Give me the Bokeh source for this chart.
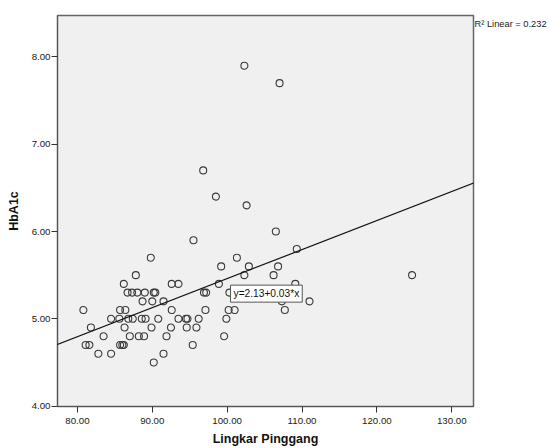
from bokeh.plotting import figure
from bokeh.models import Range1d, FixedTicker, NumeralTickFormatter, Slope, Label, LinearAxis
from bokeh.embed import file_html
from bokeh.resources import INLINE

# HbA1c values with their waist circumference (Lingkar Pinggang)
hba1c = [7.9, 7.7, 6.7, 6.4, 6.3, 6.0, 5.9, 5.8,
         5.7, 5.7,
         5.6, 5.6, 5.6,
         5.5, 5.5, 5.5, 5.5,
         5.4, 5.4, 5.4, 5.4, 5.4,
         5.3, 5.3, 5.3, 5.3, 5.3, 5.3, 5.3, 5.3, 5.3,
         5.2, 5.2, 5.2, 5.2, 5.2,
         5.1, 5.1, 5.1, 5.1, 5.1, 5.1, 5.1, 5.1,
         5.0, 5.0, 5.0, 5.0, 5.0, 5.0, 5.0, 5.0, 5.0, 5.0, 5.0, 5.0,
         4.9, 4.9, 4.9, 4.9, 4.9, 4.9,
         4.8, 4.8, 4.8, 4.8, 4.8, 4.8,
         4.7, 4.7, 4.7, 4.7, 4.7, 4.7,
         4.6, 4.6, 4.6,
         4.5]
waist = [102.3, 107.0, 96.8, 98.5, 102.6, 106.5, 95.5, 109.3,
         89.8, 101.3,
         99.2, 102.9, 106.8,
         87.8, 102.3, 106.2, 124.7,
         86.2, 92.6, 93.5, 98.9, 109.1,
         86.7, 87.3, 88.0, 89.0, 90.2, 90.4, 96.9, 97.2, 100.3,
         88.7, 90.0, 91.5, 107.3, 111.0,
         80.8, 85.7, 86.4, 92.6, 97.1, 100.2, 101.0, 107.7,
         84.5, 85.6, 86.8, 87.4, 88.6, 89.1, 90.8, 93.5, 94.5, 94.7, 96.2, 99.9,
         81.8, 86.3, 89.9, 92.5, 94.6, 95.9,
         83.5, 87.0, 88.2, 88.9, 91.9, 99.6,
         81.1, 81.6, 85.7, 86.0, 86.2, 95.4,
         82.8, 84.5, 91.5,
         90.2]

x_ticks = [80, 90, 100, 110, 120, 130]
y_ticks = [4, 5, 6, 7, 8]

fit_intercept = 2.13
fit_slope = 0.0333
fit_text = "y=2.13+0.03*x"
r2_text = "R\u00b2 Linear = 0.232"

FONT = "Liberation Sans"

p = figure(width=549, height=448, output_backend="svg", toolbar_location=None,
           x_range=Range1d(77.34, 132.9), y_range=Range1d(3.995, 8.475),
           min_border_left=57, min_border_right=76, min_border_top=15, min_border_bottom=42)

p.background_fill_color = "#F0F0F0"
p.border_fill_color = "white"
p.outline_line_color = "#666666"
p.outline_line_width = 1.5
p.xgrid.visible = False
p.ygrid.visible = False

for ax, ticks, lab in ((p.xaxis[0], x_ticks, "Lingkar Pinggang"), (p.yaxis[0], y_ticks, "HbA1c")):
    ax.ticker = FixedTicker(ticks=ticks)
    ax.formatter = NumeralTickFormatter(format="0.00")
    ax.axis_label = lab
    ax.axis_label_text_font = FONT
    ax.axis_label_text_font_style = "bold"
    ax.axis_label_text_font_size = "12.5px"
    ax.axis_label_text_color = "#111111"
    ax.major_label_text_font = FONT
    ax.major_label_text_font_size = "9.7px"
    ax.major_label_text_color = "#222222"
    ax.major_tick_in = 0
    ax.major_tick_out = 6
    ax.minor_tick_in = 0
    ax.minor_tick_out = 0
    ax.axis_line_color = "#555555"
    ax.major_tick_line_color = "#333333"

p.xaxis[0].major_label_standoff = 5
p.xaxis[0].axis_label_standoff = 5
p.yaxis[0].major_label_standoff = 1
p.yaxis[0].axis_label_standoff = 8

# R-squared note, written as the single label of a bare axis on the right side
r2_y = 8.376
r2_axis = LinearAxis(ticker=FixedTicker(ticks=[r2_y]),
                     major_label_overrides={r2_y: r2_text},
                     axis_line_color=None, major_tick_line_color=None,
                     minor_tick_line_color=None, major_tick_in=0, major_tick_out=0,
                     major_label_standoff=1, major_label_text_font=FONT,
                     major_label_text_font_size="9.3px", major_label_text_color="#222222")
p.add_layout(r2_axis, "right")

p.scatter(waist, hba1c, marker="circle", size=7, fill_color=None,
          line_color="#3a3a3a", line_width=1.1)

p.add_layout(Slope(gradient=fit_slope, y_intercept=fit_intercept,
                   line_color="#111111", line_width=1.2))

p.add_layout(Label(x=100.45, y=5.288, text=fit_text, text_font=FONT,
                   text_font_size="10.2px", text_color="#111111",
                   text_align="left", text_baseline="middle",
                   background_fill_color="white", border_line_color="#555555",
                   border_line_width=1, padding=3))

open("out.html", "w").write(file_html(p, INLINE))
